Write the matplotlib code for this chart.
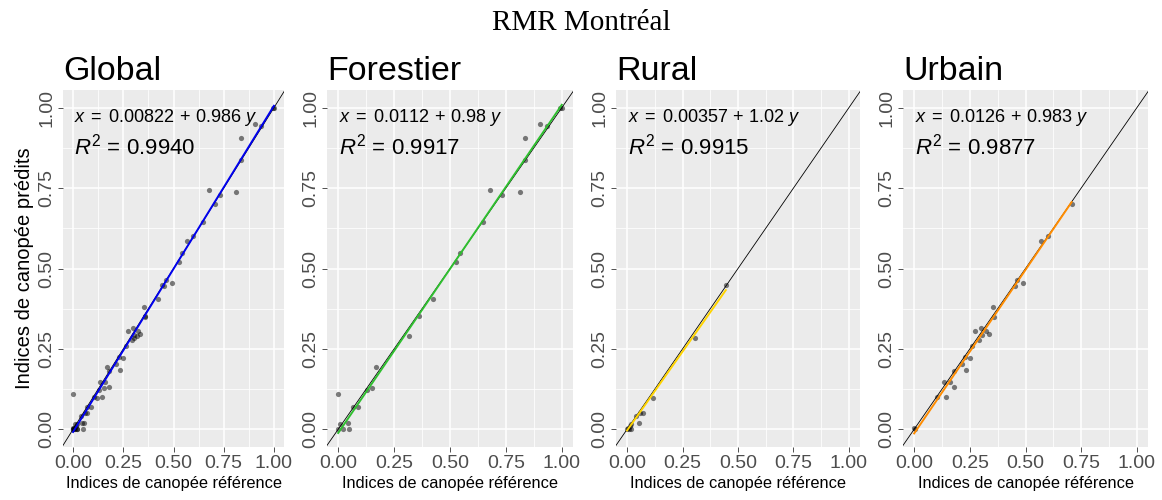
import numpy as np
import matplotlib
matplotlib.use("Agg")
import matplotlib.pyplot as plt

plt.rcParams['font.family'] = ['Liberation Sans', 'DejaVu Sans']
plt.rcParams['mathtext.fontset'] = 'custom'
plt.rcParams['mathtext.rm'] = 'Liberation Sans'
plt.rcParams['mathtext.it'] = 'Liberation Sans:italic'

# reference vs predicted canopy index, per stratum
foret_ref = [0.0, 0.0, 0.01, 0.022, 0.045, 0.05, 0.067, 0.09, 0.127, 0.153, 0.17,
             0.318, 0.36, 0.423, 0.529, 0.543, 0.649, 0.678, 0.732, 0.811, 0.837,
             0.837, 0.904, 0.934, 0.994, 1.0]
foret_pred = [0.111, 0.0, 0.018, 0.0, 0.02, 0.0, 0.068, 0.07, 0.123, 0.13, 0.195,
              0.289, 0.353, 0.404, 0.519, 0.547, 0.645, 0.744, 0.729, 0.737, 0.905,
              0.836, 0.949, 0.942, 1.0, 1.0]

rural_ref = [0.0, 0.006, 0.015, 0.018, 0.01, 0.018, 0.04, 0.055, 0.06, 0.07, 0.118,
             0.305, 0.445]
rural_pred = [0.002, 0.005, 0.01, 0.016, 0.0, 0.0, 0.041, 0.019, 0.05, 0.052, 0.098,
              0.284, 0.449]

urbain_ref = [0.0, 0.004, 0.102, 0.135, 0.144, 0.159, 0.177, 0.181, 0.214, 0.229,
              0.234, 0.249, 0.262, 0.274, 0.293, 0.299, 0.304, 0.323, 0.335, 0.352,
              0.358, 0.454, 0.461, 0.491, 0.569, 0.599, 0.707]
urbain_pred = [0.003, 0.0, 0.099, 0.148, 0.102, 0.148, 0.133, 0.18, 0.202, 0.226,
               0.185, 0.221, 0.258, 0.306, 0.278, 0.315, 0.294, 0.306, 0.297, 0.38,
               0.348, 0.447, 0.465, 0.455, 0.584, 0.602, 0.702]

titles = ["Global", "Forestier", "Rural", "Urbain"]
# fitted model: reference = a + b * predicted
intercepts = [0.00822, 0.0112, 0.00357, 0.0126]
slopes = [0.986, 0.98, 1.02, 0.983]
eq_labels = ["0.00822", "0.0112", "0.00357", "0.0126"]
slope_labels = ["0.986", "0.98", "1.02", "0.983"]
r2_labels = ["0.9940", "0.9917", "0.9915", "0.9877"]
fit_colors = ["#0000ee", "#2fbf2f", "#ffd400", "#ff8c00"]

refs = [foret_ref + rural_ref + urbain_ref, foret_ref, rural_ref, urbain_ref]
preds = [foret_pred + rural_pred + urbain_pred, foret_pred, rural_pred, urbain_pred]

fig = plt.figure(figsize=(11.62, 5), dpi=100)
boxes = [(63, 221), (327, 246), (616, 244), (903, 245)]
ticks = [0, 0.25, 0.5, 0.75, 1.0]
tick_lbl = ["0.00", "0.25", "0.50", "0.75", "1.00"]

for i in range(4):
    x0, w = boxes[i]
    ax = fig.add_axes([x0 / 1162, 53 / 500, w / 1162, 357 / 500])
    ax.set_facecolor("#EBEBEB")
    ax.set_xlim(-0.05, 1.05)
    ax.set_ylim(-0.055, 1.055)
    ax.set_xticks(ticks)
    ax.set_yticks(ticks)
    ax.set_xticks([0.125, 0.375, 0.625, 0.875], minor=True)
    ax.set_yticks([0.125, 0.375, 0.625, 0.875], minor=True)
    ax.set_xticklabels(tick_lbl)
    ax.set_yticklabels(tick_lbl, rotation=90, va="center")
    ax.grid(which="major", color="white", lw=1.1)
    ax.grid(which="minor", color="white", lw=0.55)
    ax.set_axisbelow(True)
    for s in ax.spines.values():
        s.set_visible(False)
    ax.tick_params(which="major", length=3.5, width=0.6, color="#333333",
                   labelcolor="#4D4D4D", labelsize=14, pad=2)
    ax.tick_params(which="minor", length=0)

    x = np.array(refs[i])
    y = np.array(preds[i])
    ax.scatter(x, y, s=14, color="black", alpha=0.5, lw=0, zorder=3)

    # fit line, inverted so predicted is drawn against reference
    xs = np.array([x.min(), x.max()])
    ax.axline((0, 0), slope=1, color="black", lw=0.6, zorder=4)
    ax.plot(xs, (xs - intercepts[i]) / slopes[i], color=fit_colors[i], lw=1.4, zorder=5)

    ax.text(0.005, 0.97, r"$x\;=\;%s\,+\,%s\ y$" % (eq_labels[i], slope_labels[i]),
            fontsize=13, va="center", ha="left", zorder=6)
    ax.text(0.005, 0.878, r"$R^2$ = %s" % r2_labels[i],
            fontsize=16, va="center", ha="left", zorder=6)

    ax.set_xlabel("Indices de canopée référence", fontsize=11.8, labelpad=3)
    ax.set_title(titles[i], fontsize=24.5, loc="left", pad=7)
    if i == 0:
        ax.set_ylabel("Indices de canopée prédits", fontsize=14.5, labelpad=3)

fig.text(0.5, 0.955, "RMR Montréal", family="Liberation Serif", fontsize=21,
         ha="center", va="center")

fig.savefig("out.png", dpi=100)
